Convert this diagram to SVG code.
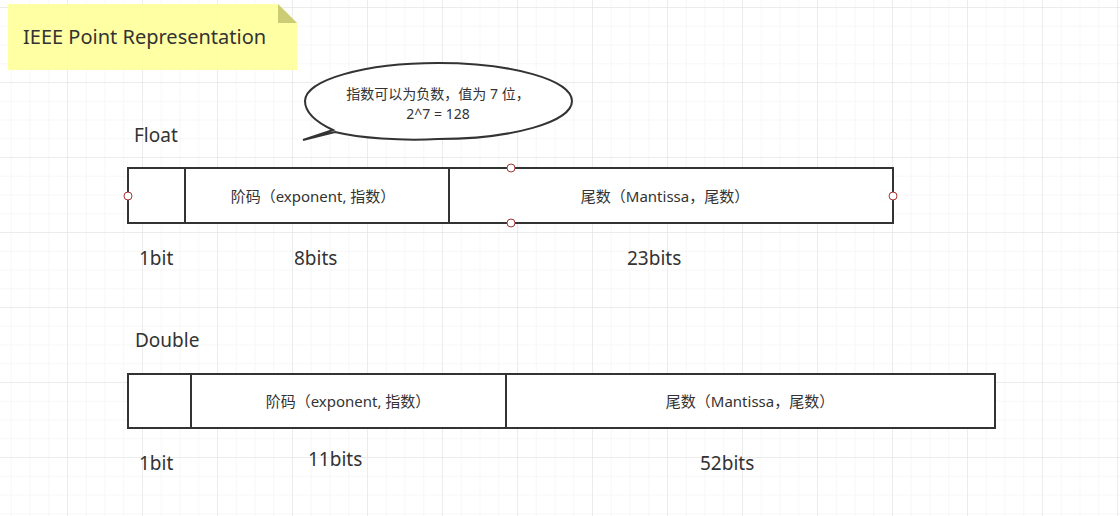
<svg xmlns="http://www.w3.org/2000/svg" width="1120" height="516" viewBox="0 0 1120 516">
<defs>
<pattern id="minor" x="-8" y="7" width="18.75" height="18.75" patternUnits="userSpaceOnUse"><path d="M0 0H18.75M0 0V18.75" fill="none" stroke="#f0f0f0" stroke-width="1"/></pattern>
<pattern id="major" x="-8" y="7" width="75" height="75" patternUnits="userSpaceOnUse"><path d="M0 0H75M0 0V75" fill="none" stroke="#e2e2e2" stroke-width="1"/></pattern>
</defs>
<style>
.t{font-family:"Noto Sans","Noto Sans CJK SC",sans-serif;fill:#333}
.box{fill:#fff;stroke:#333;stroke-width:2}
.c{fill:#fff;stroke:#a33;stroke-width:1}
</style>
<rect width="1120" height="516" fill="#fff"/>
<rect width="1120" height="516" fill="url(#minor)"/>
<rect width="1120" height="516" fill="url(#major)"/>
<g id="note">
<path d="M8 4H278L297 23V70H8Z" fill="#ffff99" opacity="0.9"/>
<path d="M278 4L297 23H278Z" fill="#cccc77"/>
<text class="t" x="23" y="44" font-size="20">IEEE Point Representation</text>
</g>
<g id="callout">
<path d="M303 140L335 132C360 138 400 141 438 139C512 139 572 122 572 101C572 80 512 63 438 63C365 63 305 80 305 101C305 113 318 123 333 130Z" fill="#fff" stroke="#333" stroke-width="2"/>
<text class="t" x="438" y="99" font-size="14" text-anchor="middle">指数可以为负数，值为 7 位，</text>
<text class="t" x="438" y="119" font-size="14" text-anchor="middle">2^7 = 128</text>
</g>
<text class="t" x="134" y="142" font-size="19">Float</text>
<g id="float">
<rect class="box" x="128" y="168" width="765" height="55"/>
<line x1="185" y1="168" x2="185" y2="223" stroke="#333" stroke-width="2"/>
<line x1="449" y1="168" x2="449" y2="223" stroke="#333" stroke-width="2"/>
<text class="t" x="313" y="202" font-size="15" text-anchor="middle">阶码（exponent, 指数）</text>
<text class="t" x="665" y="202" font-size="15" text-anchor="middle">尾数（Mantissa，尾数）</text>
<circle class="c" cx="128" cy="196" r="4"/>
<circle class="c" cx="893" cy="196" r="4"/>
<circle class="c" cx="511" cy="168" r="4"/>
<circle class="c" cx="511" cy="223" r="4"/>
</g>
<text class="t" x="139" y="265" font-size="19">1bit</text>
<text class="t" x="294" y="265" font-size="19">8bits</text>
<text class="t" x="627" y="265" font-size="19">23bits</text>
<text class="t" x="135" y="347" font-size="19">Double</text>
<g id="double">
<rect class="box" x="128" y="374" width="867" height="54"/>
<line x1="191" y1="374" x2="191" y2="428" stroke="#333" stroke-width="2"/>
<line x1="506" y1="374" x2="506" y2="428" stroke="#333" stroke-width="2"/>
<text class="t" x="348" y="407" font-size="15" text-anchor="middle">阶码（exponent, 指数）</text>
<text class="t" x="750" y="407" font-size="15" text-anchor="middle">尾数（Mantissa，尾数）</text>
</g>
<text class="t" x="139" y="470" font-size="19">1bit</text>
<text class="t" x="308" y="466" font-size="19">11bits</text>
<text class="t" x="700" y="470" font-size="19">52bits</text>
</svg>
